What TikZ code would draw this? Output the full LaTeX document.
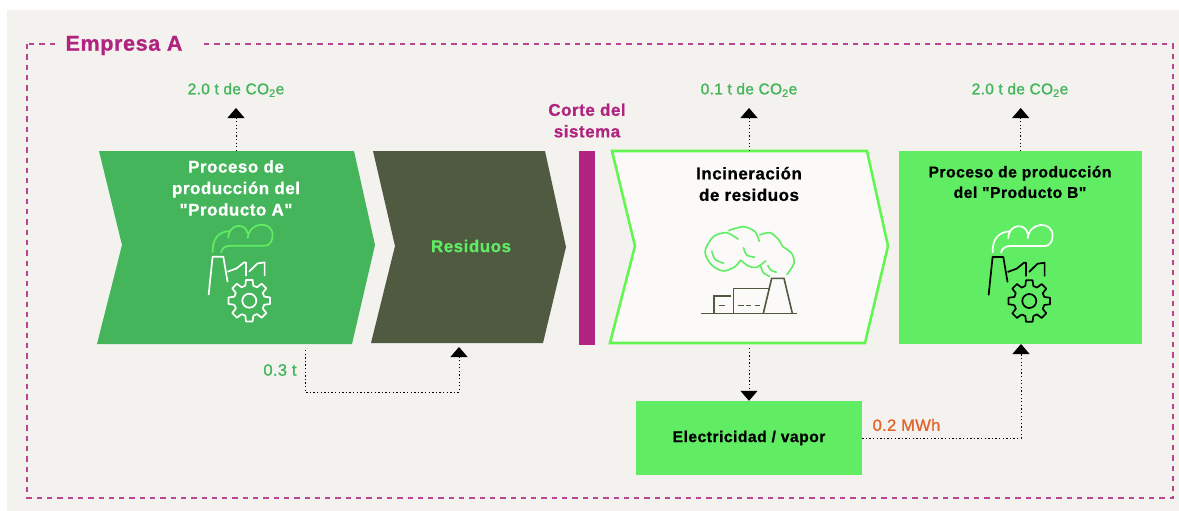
\documentclass[tikz,border=0pt]{standalone}
\usepackage{fontspec}
\newfontfamily\labelfont[LetterSpace=3,BoldFeatures={FakeBold=0.8,LetterSpace=3}]{Liberation Sans}
\newfontfamily\mediumfont[FakeBold=1.2,LetterSpace=2]{Liberation Sans}
\usetikzlibrary{arrows.meta}
\usetikzlibrary{positioning}
\definecolor{paper}{HTML}{F4F2EE}
\definecolor{midgreen}{HTML}{45B55B}
\definecolor{brightgreen}{HTML}{60ED63}
\definecolor{neon}{HTML}{63F652}
\definecolor{moss}{HTML}{4F5A40}
\definecolor{plum}{HTML}{B0237F}
\definecolor{rust}{HTML}{E0652E}
\tikzset{
  flow/.style = {black, line width=1pt, dash pattern=on 1.3pt off 2.3pt,
                 -{Triangle[width=17pt,length=10pt,sep=0pt]}},
  title/.style = {font=\fontsize{17}{21.5}\selectfont\labelfont\bfseries, align=center},
  smalltitle/.style = {font=\fontsize{15.7}{20.5}\selectfont\labelfont\bfseries, align=center},
  amount/.style = {font=\fontsize{15.5}{18}\selectfont\mediumfont, text=midgreen},
  bigamount/.style = {font=\fontsize{16.5}{18}\selectfont\mediumfont},
  pics/factory/.style 2 args = {code = {
    \draw [#1, line width=1.7pt, line join=round]
      (-40.7,-5.7) -- (-36.7,-44) -- (-26,-44) -- (-21.7,-18.7)
      (-21.7,-29) -- (-12.7,-32.3) -- (-5.3,-38.3) -- (-3.3,-38.3) -- (-3.3,-24.7)
      (-0.3,-29) -- (8.3,-37.3) -- (15.3,-38.3) -- (15.3,-24.7);
    \draw [#2, line width=1.7pt]
      (-36.7,-48) .. controls (-37,-62) and (-31,-69) .. (-19.3,-69.7)
      (-21,-62.3) .. controls (-21,-78) and (-3,-78) .. (-1.7,-67.3)
      (-1.7,-62.3) .. controls (0,-80) and (23.3,-80) .. (23.3,-65.7)
        .. controls (23.3,-59) and (20,-55) .. (15.7,-55) -- (-19.3,-55)
        .. controls (-24,-55) and (-28,-52) .. (-28.3,-48);
    \foreach \a in {0,45,...,315} {
      \draw [#1, line width=1.7pt, line join=round]
        (\a-15:15.5) -- (\a-9:21) -- (\a+9:21) -- (\a+15:15.5) arc (\a+15:\a+30:15.5);
    }
    \draw [#1, line width=1.7pt] (0,0) circle (7);
  }}
}

\begin{document}
\begin{tikzpicture}[x=1pt, y=-1pt]
  \useasboundingbox (0,0) rectangle (1179,511);
  \fill [paper] (7,10) rectangle (1179,511);

  % frame
  \draw [plum!85!white, line width=1.5pt, dash pattern=on 5.3pt off 5pt]
    (27.2,44.2) rectangle (1173.2,498.2);
  \node (company) at (128.5,45.5) [fill=paper, inner xsep=8pt, inner ysep=3pt,
    font=\fontsize{21.5}{24}\selectfont\labelfont\bfseries, text=plum] {Empresa A\kern9pt};

  % shapes
  \fill [midgreen] (99,151) -- (354,151) -- (375,245) -- (352,344) -- (97,344) -- (122,245) -- cycle;
  \fill [moss] (373,151) -- (545,151) -- (566,247) -- (543,343) -- (371,343) -- (395,246) -- cycle;
  \fill [plum] (579,151) rectangle (595,345);
  \draw [neon, line width=2.6pt, fill=white!60!paper, miter limit=10]
    (612,151) -- (867,151) -- (888,246) -- (865,343) -- (610,343) -- (635,246) -- cycle;
  \fill [brightgreen] (899,151) rectangle (1142,344);

  % labels
  \node (prodA) at (236,188) [title, text=white] {Proceso de\\producción del\\"Producto A"};
  \node (waste) at (471,246) [title, text=brightgreen] {Residuos};
  \node (cut) at (587,120.5) [title, text=plum] {Corte del\\sistema};
  \node (burn) at (749,184) [title, text=black] {Incineración\\de residuos};
  \node (prodB) at (1020,182) [smalltitle, text=black] {Proceso de producción\\del "Producto B"};
  \node (power) at (749,438) [smalltitle, text=black, fill=brightgreen,
    minimum width=226pt, minimum height=74pt] {Electricidad / vapor};

  \node (coA) at (236,90) [amount] {2.0 t de CO\textsubscript{2}e};
  \node (coBurn) at (749,90) [amount] {0.1 t de CO\textsubscript{2}e};
  \node (coB) at (1020,90) [amount] {2.0 t de CO\textsubscript{2}e};
  \node (scrap) at (280,370) [bigamount, text=midgreen] {0.3 t};
  \node (mwh) at (906.5,425) [bigamount, text=rust] {0.2 MWh};

  % icons
  \pic at (249.3,300.7) {factory={white}{brightgreen}};
  \pic at (1029.3,301) {factory={black}{white}};
  \begin{scope}[shift={(600,140)}, scale=1/3, line width=1.6pt]
    \draw [brightgreen] plot [smooth] coordinates {(415,298) (380,278) (340,290) (315,335) (335,375) (370,393) (405,380) (422,360)};
    \draw [brightgreen] plot [smooth] coordinates {(385,272) (430,260) (465,275) (478,305)};
    \draw [brightgreen] plot [smooth] coordinates {(478,285) (510,278) (535,298) (548,320)};
    \draw [brightgreen] plot [smooth] coordinates {(548,320) (575,340) (582,370) (560,405)};
    \draw [brightgreen] plot [smooth] coordinates {(422,360) (445,378) (470,382) (498,362)};
    \draw [brightgreen] plot [smooth] coordinates {(482,378) (490,398) (510,410)};
    \draw [brightgreen] plot [smooth] coordinates {(335,332) (345,358) (372,370)};
    \draw [brightgreen] plot [smooth] coordinates {(430,322) (440,345) (465,352)};
    \draw [brightgreen] plot [smooth] coordinates {(503,375) (512,390) (530,397)};
    \draw [moss] (303,520) -- (590,520);
    \draw [moss] (342,520) -- (342,468) -- (392,468);
    \draw [moss] (400,520) -- (400,445) -- (510,445);
    \draw [moss] (490,520) -- (515,415) -- (552,415) -- (577,520);
    \draw [moss] (358,497) -- (374,497);
    \foreach \x in {415,438,464} {
      \draw [moss] (\x,497) -- +(16,0);
    }
  \end{scope}

  % connectors
  \coordinate (topA) at (236,151);
  \coordinate (topBurn) at (749,151);
  \coordinate (topB) at (1020.7,151);
  \draw [flow] (topA) -- (236,108);
  \draw [flow] (topBurn) -- (749,108);
  \draw [flow] (topB) -- (1020.7,108);

  \coordinate (scrapout) at (305,350);
  \coordinate (scrapin) at (459,347);
  \draw [flow] (scrapout) -- ++(0,42) -| (scrapin);

  \coordinate (burnout) at (749,348);
  \draw [flow] (burnout) -- (power.north);

  \coordinate (powerin) at (1021,344);
  \draw [flow] (power.east) -| (powerin);
\end{tikzpicture}
\end{document}
